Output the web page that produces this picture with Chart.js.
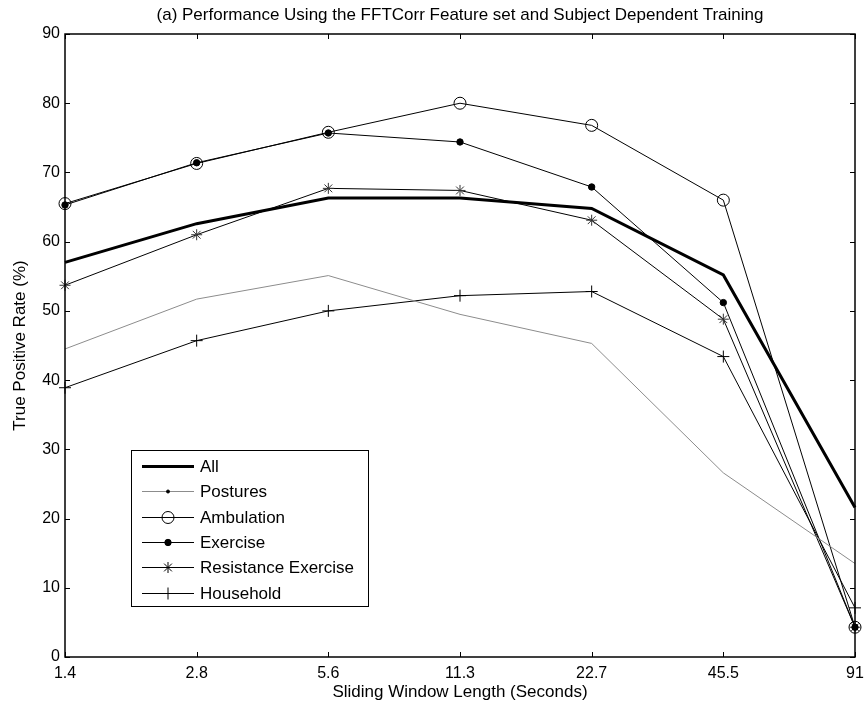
<!DOCTYPE html>
<html>
<head>
<meta charset="utf-8">
<script src="https://cdn.jsdelivr.net/npm/chart.js@4.4.1/dist/chart.umd.min.js"></script>
<style>
  html, body { margin: 0; padding: 0; background: #fff; }
  #wrap { width: 867px; height: 710px; }
</style>
</head>
<body>
<div id="wrap"><canvas id="myChart" width="867" height="710"></canvas></div>
<script>
// data
const windowLabels = ["1.4", "2.8", "5.6", "11.3", "22.7", "45.5", "91"];
const yTicks = [0, 10, 20, 30, 40, 50, 60, 70, 80, 90];

const allRate = [57.0, 62.6, 66.3, 66.3, 64.8, 55.2, 21.6];
const posturesRate = [44.5, 51.7, 55.1, 49.5, 45.3, 26.6, 13.5];
const ambulationRate = [65.5, 71.3, 75.8, 80.0, 76.8, 66.0, 4.3];
const exerciseRate = [65.3, 71.4, 75.7, 74.4, 67.9, 51.2, 4.3];
const resistanceRate = [53.7, 61.0, 67.7, 67.4, 63.1, 48.8, 4.3];
const householdRate = [38.9, 45.7, 50.0, 52.2, 52.8, 43.4, 7.1];

const titleText = "(a) Performance Using the FFTCorr Feature set and Subject Dependent Training";
const FONT = "'Liberation Sans', Arial, sans-serif";

function series(label, data, opts) {
  return Object.assign({
    label: label,
    data: data,
    borderColor: "#000",
    backgroundColor: "#000",
    borderWidth: 1,
    pointRadius: 0,
    pointBorderWidth: 1,
    pointStyle: "circle",
    tension: 0,
    clip: false,
  }, opts);
}

const datasets = [
  series("All", allRate, { borderWidth: 3 }),
  series("Postures", posturesRate, { borderColor: "#8c8c8c", backgroundColor: "#000", pointRadius: 0, legendRadius: 1.5 }),
  series("Ambulation", ambulationRate, { pointRadius: 6, backgroundColor: "rgba(0,0,0,0)", pointBorderColor: "#000" }),
  series("Exercise", exerciseRate, { pointRadius: 3.2 }),
  series("Resistance Exercise", resistanceRate, { pointRadius: 5.5, pointStyle: "star", pointBorderColor: "#333" }),
  series("Household", householdRate, { pointRadius: 6, pointStyle: "cross" }),
];

// MATLAB style box, inward ticks, title and legend
const matlabFrame = {
  id: "matlabFrame",
  afterDraw(chart) {
    const ctx = chart.ctx;
    const a = chart.chartArea;
    const xs = chart.scales.x;
    const ys = chart.scales.y;
    const tl = 5;

    ctx.save();
    ctx.strokeStyle = "#000";
    ctx.lineWidth = 1.5;
    ctx.strokeRect(a.left, a.top, a.right - a.left, a.bottom - a.top);

    ctx.lineWidth = 1;
    ctx.beginPath();
    windowLabels.forEach((lab, i) => {
      const px = Math.round(xs.getPixelForValue(i)) + 0.5;
      ctx.moveTo(px, a.bottom); ctx.lineTo(px, a.bottom - tl);
      ctx.moveTo(px, a.top); ctx.lineTo(px, a.top + tl);
    });
    yTicks.forEach((v) => {
      const py = Math.round(ys.getPixelForValue(v)) + 0.5;
      ctx.moveTo(a.left, py); ctx.lineTo(a.left + tl, py);
      ctx.moveTo(a.right, py); ctx.lineTo(a.right - tl, py);
    });
    ctx.stroke();

    // title
    ctx.fillStyle = "#000";
    ctx.font = "17px " + FONT;
    ctx.textAlign = "center";
    ctx.textBaseline = "middle";
    ctx.fillText(titleText, (a.left + a.right) / 2, 15);

    // legend box
    const lx = 131, ly = 450, lw = 237, lh = 156;
    ctx.fillStyle = "#fff";
    ctx.fillRect(lx, ly, lw, lh);
    ctx.strokeStyle = "#000";
    ctx.lineWidth = 1;
    ctx.strokeRect(lx + 0.5, ly + 0.5, lw, lh);

    ctx.font = "17px " + FONT;
    ctx.textAlign = "left";
    chart.data.datasets.forEach((ds, i) => {
      const y = Math.round(466 + i * 25.3) + 0.5;
      ctx.strokeStyle = ds.borderColor;
      ctx.lineWidth = ds.borderWidth;
      ctx.beginPath();
      ctx.moveTo(142, y);
      ctx.lineTo(194, y);
      ctx.stroke();
      const r = ds.legendRadius || ds.pointRadius;
      if (r > 0) {
        ctx.save();
        ctx.fillStyle = ds.backgroundColor;
        ctx.strokeStyle = "#000";
        ctx.lineWidth = 1;
        if (ds.pointStyle === "circle") {
          ctx.beginPath();
          ctx.arc(168, y, r, 0, Math.PI * 2);
          ctx.fill();
          ctx.stroke();
        } else {
          Chart.helpers.drawPoint(ctx, {
            pointStyle: ds.pointStyle,
            radius: r,
            rotation: 0,
            borderWidth: 1,
          }, 168, y);
        }
        ctx.restore();
      }
      ctx.fillStyle = "#000";
      ctx.fillText(ds.label, 200, y + 1);
    });
    ctx.restore();
  },
};

const ctx = document.getElementById("myChart");

const myChart = new Chart(ctx, {
  type: "line",
  data: {
    labels: windowLabels,
    datasets: datasets,
  },
  options: {
    responsive: false,
    animation: false,
    layout: { padding: { top: 34, right: 12, left: 0, bottom: 0 } },
    plugins: {
      legend: { display: false },
      tooltip: { enabled: false },
    },
    scales: {
      x: {
        offset: false,
        grid: { display: false, drawTicks: false },
        border: { display: false },
        ticks: {
          color: "#000",
          font: { family: FONT, size: 16 },
          padding: 7,
          maxRotation: 0,
          autoSkip: false,
        },
        title: {
          display: true,
          text: "Sliding Window Length (Seconds)",
          color: "#000",
          font: { family: FONT, size: 17 },
          padding: { top: 0, bottom: 7 },
        },
        afterFit(scale) {
          scale.height = 53;
          scale.paddingLeft = 0;
          scale.paddingRight = 0;
        },
      },
      y: {
        min: 0,
        max: 90,
        grid: { display: false, drawTicks: false },
        border: { display: false },
        ticks: {
          stepSize: 10,
          color: "#000",
          font: { family: FONT, size: 16 },
          padding: 5,
        },
        title: {
          display: true,
          text: "True Positive Rate (%)",
          color: "#000",
          font: { family: FONT, size: 17 },
          padding: { top: 10, bottom: 10 },
        },
        afterFit(scale) {
          scale.width = 65;
        },
      },
    },
  },
  plugins: [matlabFrame],
});
</script>
</body>
</html>
